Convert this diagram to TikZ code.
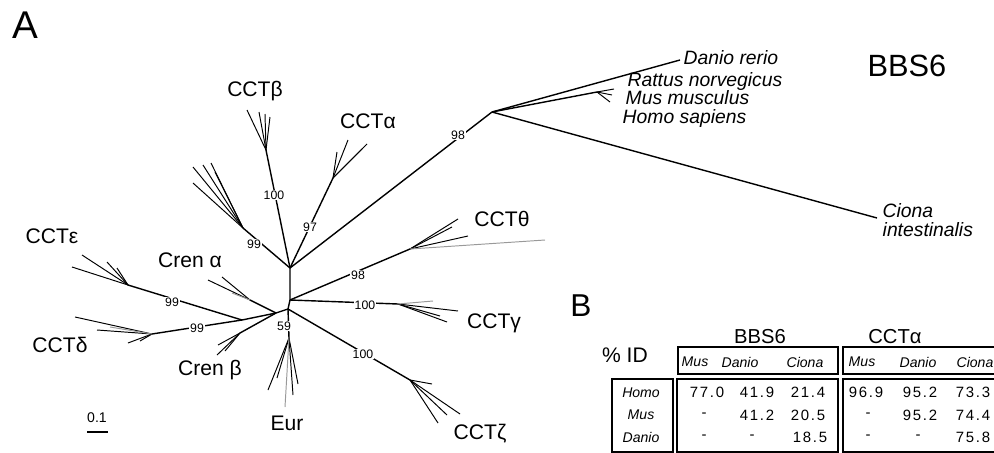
\documentclass[tikz,border=0pt]{standalone}
\usepackage{fontspec}
\setmainfont{Liberation Sans}
\newfontfamily\numfont[LetterSpace=12]{Liberation Sans}

\begin{document}
\begin{tikzpicture}[x=0.02cm,y=-0.02cm,line width=0.8pt,
  fan/.style={line width=0.55pt},
  faint/.style={line width=0.55pt,black!40},
  boot/.style={fill=white,inner sep=0.6pt,font=\fontsize{7}{8}\selectfont},
  clade/.style={font=\fontsize{12}{14}\selectfont},
  species/.style={anchor=west,inner sep=0pt,font=\fontsize{11}{11}\selectfont\itshape},
  colhead/.style={font=\fontsize{8}{9}\selectfont\itshape},
  cell/.style={font=\fontsize{8.5}{9}\numfont},
  tbox/.style={draw,line width=0.7pt}]
\useasboundingbox (0,0) rectangle (994,453);
\clip (0,0) rectangle (994,453);
% ---------- panel A ----------
\node[font=\fontsize{22}{24}\selectfont] (panelA) at (25,25) {A};
% internal nodes
\coordinate (c0) at (288,309);
\coordinate (c2) at (290,300);
\coordinate (c1) at (290,268);
\coordinate (cl) at (276,313);
\coordinate (cm) at (242,320);
\coordinate (bnode) at (492,112);
% clade bases
\coordinate (bbase) at (266,150);
\coordinate (abase) at (333,178);
\coordinate (ubase) at (243,228);
\coordinate (tbase) at (410,249);
\coordinate (gbase) at (398,304);
\coordinate (zbase) at (410,380);
\coordinate (ebase) at (289,338);
\coordinate (crabase) at (250,300);
\coordinate (crbbase) at (240,333);
\coordinate (epsbase) at (128,285);
\coordinate (dbase) at (152,334);
% ---------- branches ----------
\draw (c0) -- (c2) -- (c1);
\draw (c1) -- (bnode);
\draw (c1) -- (abase);
\draw (c1) -- (bbase);
\draw (c1) -- (ubase);
\draw (c2) -- (tbase);
\draw (c2) -- (gbase);
\draw (c0) -- (zbase);
\draw (c0) -- (ebase);
\draw (c0) -- (cl);
\draw (cl) -- (crabase);
\draw (cl) -- (crbbase);
\draw (cl) -- (cm);
\draw (cm) -- (epsbase);
\draw (cm) -- (dbase);
% ---------- terminal fans ----------
\foreach \i/\px/\py in {1/247/110,2/259/112,3/265/114,4/270/117}
  {\coordinate (bt\i) at (\px,\py); \draw[fan] (bbase) -- (bt\i);}
\foreach \i/\px/\py in {1/337/152,2/348/140,3/362/149,4/367/144}
  {\coordinate (at\i) at (\px,\py); \draw[fan] (abase) -- (at\i);}
\foreach \i/\px/\py in {1/193/167,2/203/165,3/211/163,4/215/172,5/193/183}
  {\coordinate (ut\i) at (\px,\py); \draw[fan] (ubase) -- (ut\i);}
\foreach \i/\px/\py in {1/458/219,2/452/227,3/468/236}
  {\coordinate (tt\i) at (\px,\py); \draw[fan] (tbase) -- (tt\i);}
\coordinate (tt4) at (545,240);
\draw[faint] (tbase) -- (tt4);
\foreach \i/\px/\py in {1/458/311,2/447/322,3/440/316}
  {\coordinate (gt\i) at (\px,\py); \draw[fan] (gbase) -- (gt\i);}
\coordinate (gt4) at (433,301);
\draw[faint] (gbase) -- (gt4);
\foreach \i/\px/\py in {1/432/384,2/460/414,3/447/415,4/438/423}
  {\coordinate (zt\i) at (\px,\py); \draw[fan] (zbase) -- (zt\i);}
\foreach \i/\px/\py in {1/268/390,2/277/378,3/298/384,4/293/395}
  {\coordinate (et\i) at (\px,\py); \draw[fan] (ebase) -- (et\i);}
\coordinate (et5) at (285,407);
\draw[faint] (ebase) -- (et5);
\foreach \i/\px/\py in {1/208/280,2/222/277}
  {\coordinate (rat\i) at (\px,\py); \draw[fan] (crabase) -- (rat\i);}
\coordinate (rat3) at (232,293);
\draw[faint] (crabase) -- (rat3);
\foreach \i/\px/\py in {1/217/355,2/218/345,3/225/351}
  {\coordinate (rbt\i) at (\px,\py); \draw[fan] (crbbase) -- (rbt\i);}
\foreach \i/\px/\py in {1/82/255,2/72/267,3/107/262,4/117/268}
  {\coordinate (pt\i) at (\px,\py); \draw[fan] (epsbase) -- (pt\i);}
\foreach \i/\px/\py in {1/75/317,2/97/330,3/128/343,4/140/341}
  {\coordinate (dt\i) at (\px,\py); \draw[fan] (dbase) -- (dt\i);}
\coordinate (dt5) at (110,327);
\draw[faint] (dbase) -- (dt5);
% ---------- BBS6 subtree ----------
\coordinate (dtip) at (680,60);
\coordinate (mbase) at (597,92);
\coordinate (ctip) at (877,218);
\draw (bnode) -- (dtip);
\draw (bnode) -- (mbase);
\draw (bnode) -- (ctip);
\foreach \i/\px/\py in {1/614/89,2/612/95,3/610/102}
  {\coordinate (mt\i) at (\px,\py); \draw[fan] (mbase) -- (mt\i);}
% ---------- bootstrap values ----------
\node[boot] (bs98a) at (458,135) {98};
\node[boot] (bs100b) at (274,195) {100};
\node[boot] (bs97) at (310,227) {97};
\node[boot] (bs99u) at (254,244) {99};
\node[boot] (bs98t) at (358,275) {98};
\node[boot] (bs100g) at (365,305) {100};
\node[boot] (bs100z) at (363,354) {100};
\node[boot] (bs59) at (284,326) {59};
\node[boot] (bs99e) at (172,302) {99};
\node[boot] (bs99d) at (197,328) {99};
% ---------- clade labels ----------
\node[clade] (lbeta) at (255,91) {CCTβ};
\node[clade] (lalpha) at (368,121) {CCTα};
\node[clade] (ltheta) at (502,219) {CCTθ};
\node[clade] (lgamma) at (494,323) {CCTγ};
\node[clade] (lzeta) at (480,434) {CCTζ};
\node[clade] (leur) at (287,423) {Eur};
\node[clade] (lcrb) at (210,370) {Cren β};
\node[clade] (lcra) at (190,260) {Cren α};
\node[clade] (leps) at (52,236) {CCTε};
\node[clade] (ldel) at (60,345) {CCTδ};
\node[species] (ldanio) at (683,58) {Danio rerio};
\node[species,align=left,font=\fontsize{11}{10.3}\selectfont\itshape] (lmammal) at (622,100)
  {\hspace*{2.8pt}Rattus norvegicus\\\hspace*{1.7pt}Mus musculus\\Homo sapiens};
\node[species,align=left] (lciona) at (882,220) {Ciona\\intestinalis};
\node[font=\fontsize{17.5}{20}\selectfont] (lbbs) at (907,66) {BBS6};
% scale bar
\node[font=\fontsize{8}{9}\selectfont] (lscale) at (97,418) {0.1};
\coordinate (sb1) at (87,432);
\coordinate (sb2) at (108,432);
\draw (sb1) -- (sb2);
% ---------- panel B: identity table ----------
\node[font=\fontsize{18}{20}\selectfont] (panelB) at (581,306) {B};
\node[font=\fontsize{12}{14}\selectfont] (pid) at (625,355) {\% ID};
\node[font=\fontsize{11.5}{13}\selectfont] (hbbs) at (760,337) {BBS6};
\node[font=\fontsize{11.5}{13}\selectfont] (hcct) at (895,337) {CCTα};
\draw[tbox] (678,347) rectangle (838,374);
\draw[tbox] (843,347) rectangle (1000,374);
\draw[tbox] (612,379) rectangle (673,452);
\draw[tbox] (677,379) rectangle (838,452);
\draw[tbox] (843,379) rectangle (1000,452);
% column and row heads
\node[colhead] (cb1) at (695,362) {Mus};
\node[colhead] (cb2) at (740,362) {Danio};
\node[colhead] (cb3) at (805,362) {Ciona};
\node[colhead] (cc1) at (862,362) {Mus};
\node[colhead] (cc2) at (918,362) {Danio};
\node[colhead] (cc3) at (975,362) {Ciona};
\node[colhead] (rh1) at (641,393) {Homo};
\node[colhead] (rh2) at (641,415) {Mus};
\node[colhead] (rh3) at (641,437) {Danio};
% values
\node[cell] (v11) at (707,392) {77.0};
\node[cell] (v12) at (757,392) {41.9};
\node[cell] (v13) at (808,392) {21.4};
\node[cell] (v21) at (704,415) {-};
\node[cell] (v22) at (757,415) {41.2};
\node[cell] (v23) at (808,415) {20.5};
\node[cell] (v31) at (704,437) {-};
\node[cell] (v32) at (752,437) {-};
\node[cell] (v33) at (810,437) {18.5};
\node[cell] (w11) at (866,392) {96.9};
\node[cell] (w12) at (920,392) {95.2};
\node[cell] (w13) at (973,392) {73.3};
\node[cell] (w21) at (868,415) {-};
\node[cell] (w22) at (920,415) {95.2};
\node[cell] (w23) at (973,415) {74.4};
\node[cell] (w31) at (868,437) {-};
\node[cell] (w32) at (918,437) {-};
\node[cell] (w33) at (973,437) {75.8};
\end{tikzpicture}
\end{document}
